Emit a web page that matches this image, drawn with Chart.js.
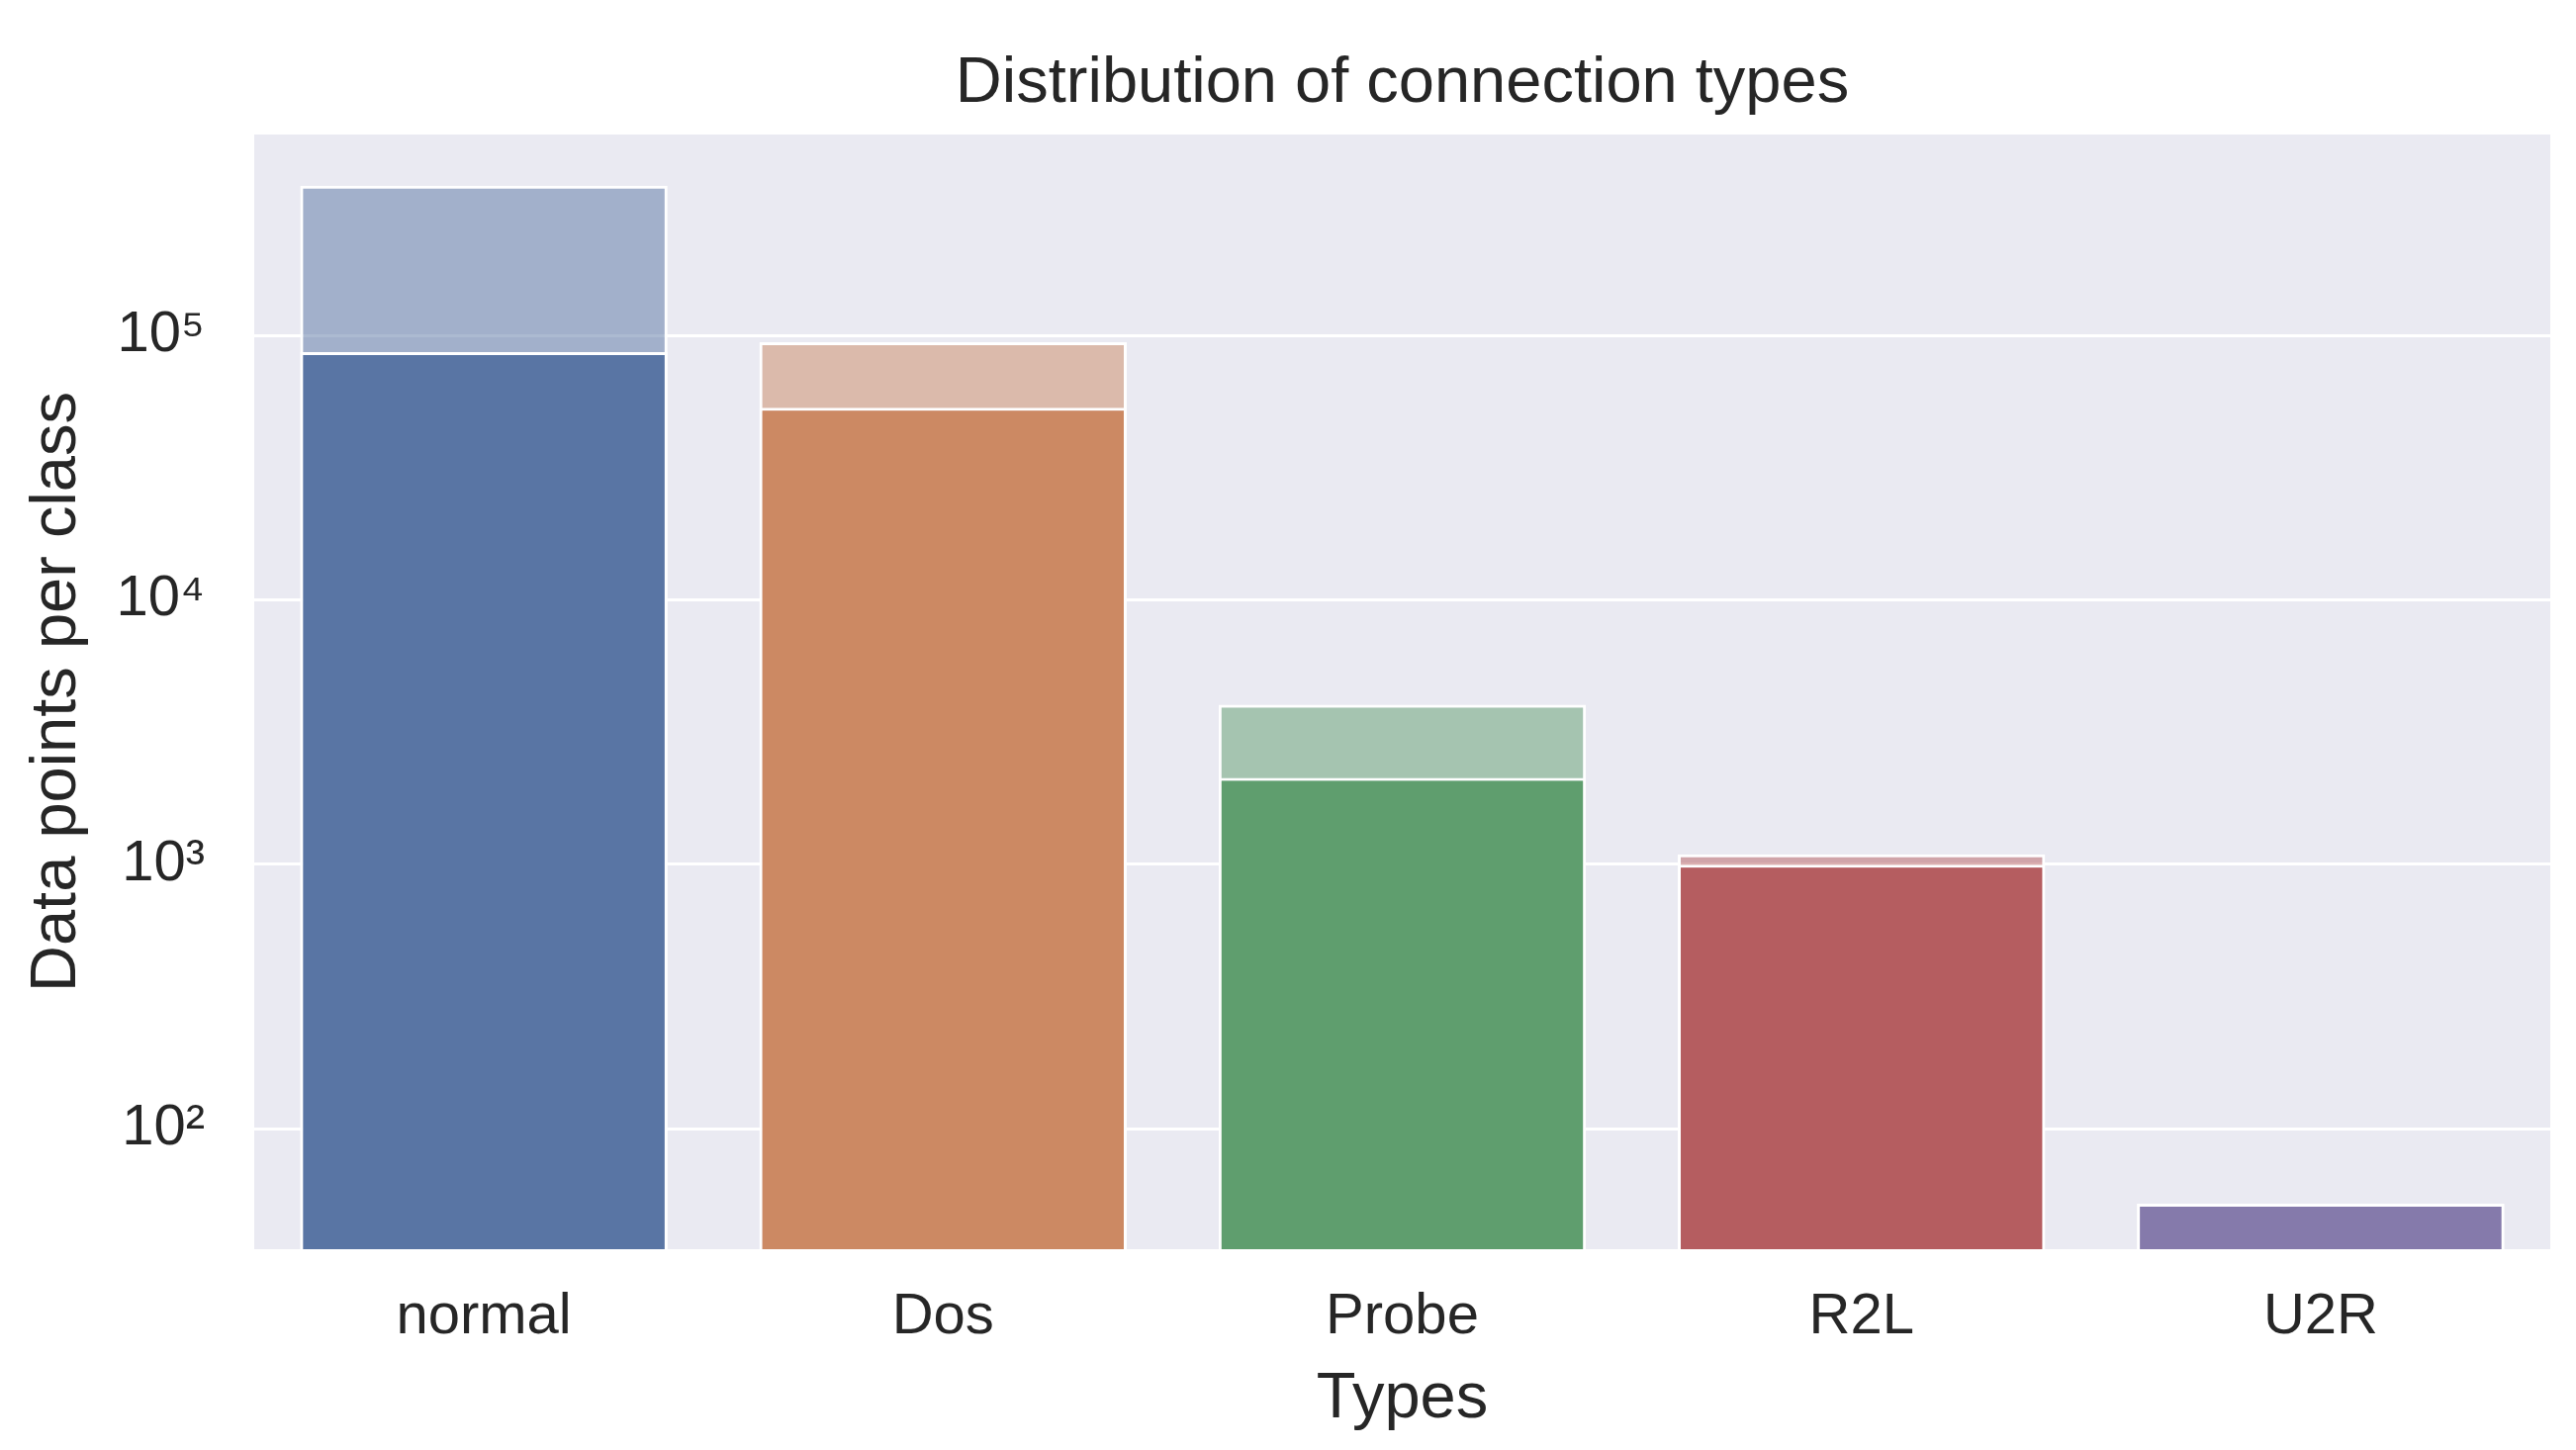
<!DOCTYPE html>
<html>
<head>
<meta charset="utf-8">
<title>Distribution of connection types</title>
<script src="https://cdn.jsdelivr.net/npm/chart.js@4.4.0/dist/chart.umd.min.js"></script>
<style>
    html, body { margin: 0; padding: 0; background: #ffffff; }
    #wrap { width: 2604px; height: 1466px; }
</style>
</head>
<body>
<div id="wrap"><canvas id="myChart" width="2604" height="1466"></canvas></div>
<script>
const categories = ['normal', 'Dos', 'Probe', 'R2L', 'U2R'];
// two overlaid counts per class (lighter bar behind, darker bar in front)
const backCounts = [368000, 94200, 4010, 1090, 52];
const frontCounts = [86400, 53300, 2120, 995, 52];
const yTicks = [100, 1000, 10000, 100000];
const yMin = 35;
const yMax = 575000;

const barColors = ['#5975a4', '#cc8963', '#5f9e6e', '#b55d60', '#857aab'];
const fadedColors = ['rgba(89,117,164,0.5)', 'rgba(204,137,99,0.5)', 'rgba(95,158,110,0.5)',
    'rgba(181,93,96,0.5)', 'rgba(133,122,171,0.5)'];

const textColor = '#262626';
const fontFamily = '"Liberation Sans", Arial, sans-serif';
const supDigits = { '0': '\u2070', '1': '\u00b9', '2': '\u00b2', '3': '\u00b3', '4': '\u2074',
    '5': '\u2075', '6': '\u2076', '7': '\u2077', '8': '\u2078', '9': '\u2079' };

const toPower = (value) => {
    const exp = String(Math.round(Math.log10(value)));
    return '10' + exp.split('').map(d => supDigits[d]).join('');
};

const plotBackground = {
    id: 'plotBackground',
    beforeDraw(chart) {
        const { ctx, chartArea } = chart;
        ctx.save();
        ctx.fillStyle = '#eaeaf2';
        ctx.fillRect(chartArea.left, chartArea.top, chartArea.right - chartArea.left, chartArea.bottom - chartArea.top);
        ctx.restore();
    }
};

const data = {
    labels: categories,
    datasets: [{
        label: 'back',
        data: backCounts,
        backgroundColor: fadedColors,
        borderColor: '#ffffff',
        borderWidth: 3,
        grouped: false,
        order: 1
    },
    {
        label: 'front',
        data: frontCounts,
        backgroundColor: barColors,
        borderColor: '#ffffff',
        borderWidth: 3,
        grouped: false,
        order: 0
    }]
};

const config = {
    type: 'bar',
    data: data,
    options: {
        responsive: false,
        animation: false,
        layout: { padding: { left: 0, right: 26, top: 0, bottom: 0 } },
        datasets: { bar: { barPercentage: 0.8, categoryPercentage: 1.0 } },
        plugins: {
            legend: { display: false },
            tooltip: { enabled: false }
        },
        scales: {
            // top axis only carries the chart title, so it is centred over the plot area
            top: {
                type: 'category',
                position: 'top',
                grid: { display: false, drawTicks: false },
                border: { display: false },
                ticks: { display: false },
                title: {
                    display: true,
                    text: 'Distribution of connection types',
                    color: textColor,
                    font: { family: fontFamily, size: 65 },
                    padding: { top: 46, bottom: 0 }
                },
                afterFit: (scale) => { scale.height = 136; }
            },
            x: {
                grid: { display: false, drawTicks: false },
                border: { display: false },
                ticks: { color: textColor, font: { family: fontFamily, size: 58 }, padding: 34 },
                title: {
                    display: true,
                    text: 'Types',
                    color: textColor,
                    font: { family: fontFamily, size: 65 },
                    padding: { top: 0, bottom: 12 }
                },
                afterFit: (scale) => { scale.height = 203; }
            },
            y: {
                type: 'logarithmic',
                min: yMin,
                max: yMax,
                grid: { color: '#ffffff', lineWidth: 3, drawTicks: false },
                border: { display: false },
                afterBuildTicks: (scale) => {
                    scale.ticks = yTicks.map(v => ({ value: v, major: true }));
                },
                ticks: {
                    color: textColor,
                    font: { family: fontFamily, size: 58 },
                    padding: 50,
                    callback: (value) => toPower(value)
                },
                title: {
                    display: true,
                    text: 'Data points per class',
                    color: textColor,
                    font: { family: fontFamily, size: 65 },
                    padding: { top: 19, bottom: 0 }
                },
                afterFit: (scale) => { scale.width = 257; }
            }
        }
    },
    plugins: [plotBackground]
};

const myChart = new Chart(document.getElementById('myChart'), config);
</script>
</body>
</html>
